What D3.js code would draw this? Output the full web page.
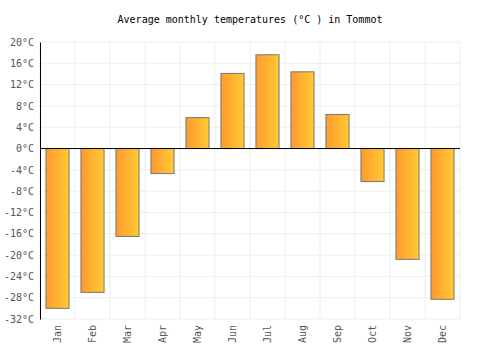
<!DOCTYPE html>
<html>
<head>
<meta charset="utf-8">
<script src="https://cdn.jsdelivr.net/npm/d3@7/dist/d3.min.js"></script>
<style>
  body { margin: 0; background: #fff; }
  svg text { font-family: "DejaVu Sans Mono", monospace; }
</style>
</head>
<body>
<svg id="chart"></svg>
<script>
// data
var months = ["Jan", "Feb", "Mar", "Apr", "May", "Jun", "Jul", "Aug", "Sep", "Oct", "Nov", "Dec"];
var temps = [-30.0, -27.0, -16.5, -4.7, 5.8, 14.1, 17.6, 14.4, 6.4, -6.2, -20.8, -28.3];
var yTicks = [-32, -28, -24, -20, -16, -12, -8, -4, 0, 4, 8, 12, 16, 20];
var title = "Average monthly temperatures (°C ) in Tommot";

var totalW = 500, totalH = 350;
var margin = {top: 42, right: 40, bottom: 31, left: 40};
var width = totalW - margin.left - margin.right;
var height = totalH - margin.top - margin.bottom;

var svg = d3.select("#chart")
    .attr("width", totalW)
    .attr("height", totalH);

var defs = svg.append("defs");
var grad = defs.append("linearGradient")
    .attr("id", "barGrad")
    .attr("x1", "0%").attr("x2", "100%")
    .attr("y1", "0%").attr("y2", "0%");
grad.append("stop").attr("offset", "0%").attr("stop-color", "#ff9a30");
grad.append("stop").attr("offset", "100%").attr("stop-color", "#ffca33");

svg.append("text")
    .attr("x", totalW / 2)
    .attr("y", 23)
    .attr("text-anchor", "middle")
    .style("font-size", "10px")
    .style("fill", "#000")
    .text(title);

var g = svg.append("g")
    .attr("transform", "translate(" + margin.left + "," + margin.top + ")");

var x = d3.scaleBand()
    .domain(months)
    .range([0, width]);

var y = d3.scaleLinear()
    .domain([-32, 20])
    .range([height, 0]);

// grid
g.append("g")
    .selectAll("line.hgrid")
    .data(yTicks)
    .enter().append("line")
    .attr("x1", 0).attr("x2", width)
    .attr("y1", function (d) { return y(d); })
    .attr("y2", function (d) { return y(d); })
    .style("stroke", "#eeeeee")
    .style("stroke-width", 1);

g.append("g")
    .selectAll("line.vgrid")
    .data(months.concat(["end"]))
    .enter().append("line")
    .attr("x1", function (d, i) { return i * x.step(); })
    .attr("x2", function (d, i) { return i * x.step(); })
    .attr("y1", 0).attr("y2", height)
    .style("stroke", "#eeeeee")
    .style("stroke-width", 1);

// bars
var barW = x.bandwidth() * 0.66;
g.selectAll(".bar")
    .data(temps)
    .enter().append("rect")
    .attr("class", "bar")
    .attr("x", function (d, i) { return x(months[i]) + (x.bandwidth() - barW) / 2; })
    .attr("width", barW)
    .attr("y", function (d) { return y(Math.max(0, d)); })
    .attr("height", function (d) { return Math.abs(y(d) - y(0)); })
    .style("fill", "url(#barGrad)")
    .style("stroke", "#777")
    .style("stroke-width", 1);

// zero line
g.append("line")
    .attr("x1", 0).attr("x2", width)
    .attr("y1", y(0)).attr("y2", y(0))
    .style("stroke", "#000")
    .style("stroke-width", 1);

// y axis
var yAxis = d3.axisLeft(y)
    .tickValues(yTicks)
    .tickSize(0)
    .tickPadding(6)
    .tickFormat(function (d) { return d + "°C"; });

var yG = g.append("g").call(yAxis);
yG.select(".domain").style("stroke", "#000");
yG.selectAll("text")
    .style("font-size", "10px")
    .style("fill", "#555")
    .style("font-family", "'DejaVu Sans Mono', monospace");

// x axis
var xAxis = d3.axisBottom(x).tickSize(0).tickPadding(6);
var xG = g.append("g")
    .attr("transform", "translate(0," + height + ")")
    .call(xAxis);
xG.select(".domain").remove();
xG.selectAll("text")
    .style("font-size", "10px")
    .style("fill", "#555")
    .style("font-family", "'DejaVu Sans Mono', monospace")
    .style("text-anchor", "end")
    .attr("dx", "-0.6em")
    .attr("dy", "0.35em")
    .attr("y", 0)
    .attr("x", 0)
    .attr("transform", "rotate(-90)");
</script>
</body>
</html>
